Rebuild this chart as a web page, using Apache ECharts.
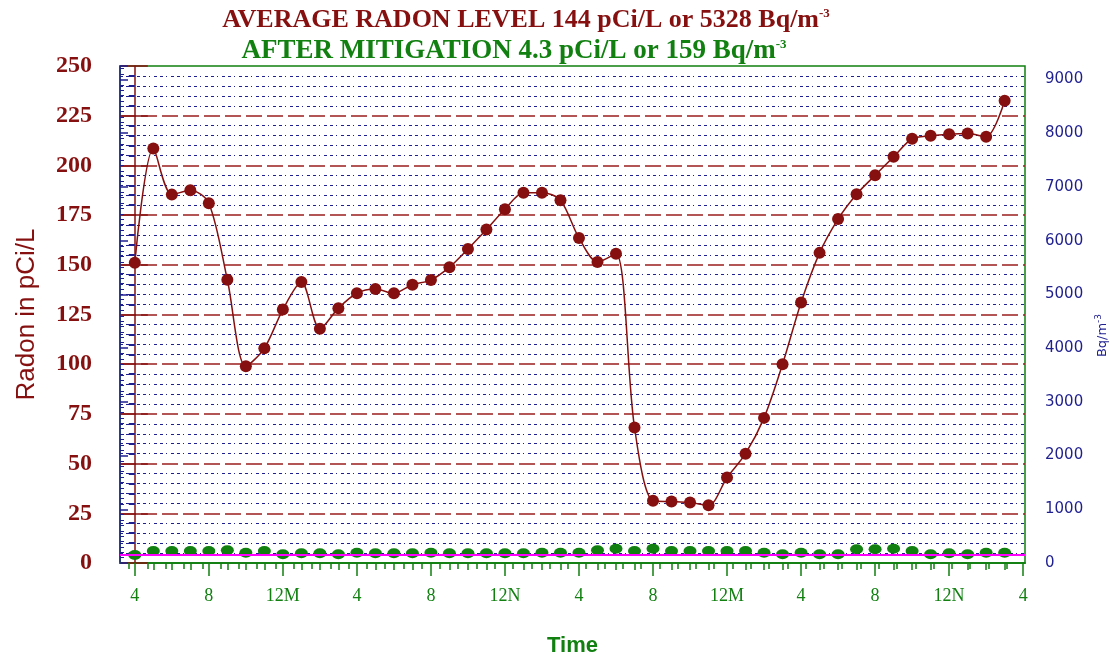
<!DOCTYPE html>
<html>
<head>
<meta charset="utf-8">
<script src="https://cdn.jsdelivr.net/npm/echarts@6/dist/echarts.min.js"></script>
<style>
html,body{margin:0;padding:0;background:#fff;}
#chart{width:1110px;height:659px;}
</style>
</head>
<body>
<div id="chart"></div>
<script>
// hours since the first reading (4 pm)
var hours = [0,1,2,3,4,5,6,7,8,9,10,11,12,13,14,15,16,17,18,19,20,21,22,23,
             24,25,26,27,28,29,30,31,32,33,34,35,36,37,38,39,40,41,42,43,44,45,46,47];
// before mitigation, pCi/L
var radonBefore = [151,208.5,185.3,187.5,181,142.5,99,108,127.5,141.3,117.8,128.2,135.7,137.8,135.7,140,
                   142.3,148.8,158,167.8,177.9,186.3,186.3,182.5,163.5,151.4,155.6,68.2,31.3,30.9,30.4,29,
                   43,55,73,100,131,156,173,185.5,195,204.3,213.4,214.9,215.7,216,214.4,232.5];
// after mitigation, pCi/L
var radonAfter = [4.0,6.0,6.0,6.0,6.0,6.4,5.2,6.0,4.4,4.9,4.9,4.4,5.2,4.9,4.9,4.9,
                  5.2,4.9,4.9,4.9,4.9,4.9,5.2,5.2,5.2,6.4,7.2,6.0,7.2,6.0,6.0,6.0,
                  6.0,6.0,5.2,4.4,5.2,4.4,4.4,6.9,6.9,7.2,6.0,4.4,4.9,4.4,5.2,5.2];
var afterAvg = 4.3;
var labelHours = [0,4,8,12,16,20,24,28,32,36,40,44,48];
var timeLabels = ['4','8','12M','4','8','12N','4','8','12M','4','8','12N','4'];

var darkRed = '#861010';
var green = '#118011';
var navy = '#1f1f8f';

var hourTicks = hours.concat([48]);
// ticks on the top border
var topTicks = [];
for (var k = 0; k < 49; k++) topTicks.push(k + 0.5);

function pairs(xs, ys){
  return ys.map(function(y, i){ return [xs[i], y]; });
}

var chart = echarts.init(document.getElementById('chart'));
var option = {
  animation: false,
  backgroundColor: '#fff',
  title: [
    {
      text: 'AVERAGE RADON LEVEL 144 pCi/L or 5328 Bq/m{sup|-3}',
      left: 521, top: 2, textAlign: 'center',
      textStyle: {fontFamily: 'Liberation Serif', fontSize: 26, fontWeight: 'bold', color: darkRed,
        rich: {sup: {fontFamily: 'Liberation Serif', fontSize: 13, fontWeight: 'bold', color: darkRed, verticalAlign: 'top', padding: [0,0,12,0]}}}
    },
    {
      text: 'AFTER MITIGATION 4.3 pCi/L or 159 Bq/m{sup|-3}',
      left: 509, top: 33, textAlign: 'center',
      textStyle: {fontFamily: 'Liberation Serif', fontSize: 27, fontWeight: 'bold', color: green,
        rich: {sup: {fontFamily: 'Liberation Serif', fontSize: 13, fontWeight: 'bold', color: green, verticalAlign: 'top', padding: [0,0,12,0]}}}
    }
  ],
  grid: {left: 120, right: 85, top: 66, bottom: 96, outerBoundsMode: 'none',
    show: true, borderColor: green, borderWidth: 1.5},
  xAxis: [
    {
      type: 'value', position: 'bottom', min: -0.8, max: 48.1,
      axisLine: {lineStyle: {color: green, width: 1.5}},
      axisTick: {customValues: labelHours, length: 13, lineStyle: {color: green, width: 1.5}},
      axisLabel: {customValues: labelHours, margin: 24, color: green,
        fontFamily: 'Liberation Serif', fontSize: 18,
        formatter: function(v){ return timeLabels[labelHours.indexOf(v)]; }},
      splitLine: {show: false},
      name: 'Time', nameLocation: 'middle', nameGap: 72,
      nameTextStyle: {color: green, fontFamily: 'Liberation Sans', fontWeight: 'bold', fontSize: 22}
    },
    {
      type: 'value', position: 'bottom', min: -0.8, max: 48.1,
      axisLine: {show: false},
      axisTick: {customValues: hourTicks, length: 7, lineStyle: {color: green, width: 1.5}},
      axisLabel: {show: false},
      splitLine: {show: false}
    },
    {
      type: 'value', position: 'top', min: 0, max: 49.5,
      axisLine: {lineStyle: {color: green, width: 1.5}},
      axisTick: {inside: true, customValues: topTicks, length: 6, lineStyle: {color: green, width: 1.5}},
      axisLabel: {show: false},
      splitLine: {show: false}
    }
  ],
  yAxis: [
    {
      type: 'value', position: 'left', min: 0, max: 250, interval: 25,
      axisLine: {show: true, lineStyle: {color: darkRed, width: 1.5}},
      axisTick: {length: 14, lineStyle: {color: darkRed, width: 1.5}},
      minorTick: {show: true, splitNumber: 5, length: 6, lineStyle: {color: navy, width: 2}},
      axisLabel: {color: darkRed, fontFamily: 'Liberation Serif', fontWeight: 'bold', fontSize: 24, margin: 28},
      splitLine: {showMinLine: false, showMaxLine: false, lineStyle: {color: '#9c1e1e', type: [16,5], width: 1.5}},
      minorSplitLine: {show: true, lineStyle: {color: navy, type: [3,3,3,3,1,4], width: 1.2}},
      name: 'Radon in pCi/L', nameLocation: 'middle', nameGap: 80,
      nameTextStyle: {color: darkRed, fontFamily: 'Liberation Sans', fontSize: 26}
    },
    {
      type: 'value', position: 'left', min: 0, max: 250, interval: 25,
      axisLine: {show: false},
      axisTick: {inside: true, length: 13, lineStyle: {color: darkRed, width: 1.5}},
      axisLabel: {show: false},
      splitLine: {show: false}
    },
    {
      type: 'value', position: 'right', offset: 2, min: 0, max: 9250, interval: 1000,
      axisLine: {show: true, lineStyle: {color: navy, width: 1.5}},
      axisTick: {length: 8, lineStyle: {color: navy, width: 1.5}},
      minorTick: {show: true, splitNumber: 10, length: 4, lineStyle: {color: navy, width: 1}},
      axisLabel: {color: navy, fontFamily: 'DejaVu Sans', fontSize: 15, margin: 18, showMaxLabel: false,
        formatter: function(v){ return String(v); }},
      splitLine: {show: false},
      name: 'Bq/m{sup|-3}', nameLocation: 'middle', nameRotate: 90, nameGap: 54,
      nameTextStyle: {color: navy, fontFamily: 'DejaVu Sans', fontSize: 13, padding: [0, 42, 0, 0],
        rich: {sup: {fontFamily: 'DejaVu Sans', fontSize: 9, color: navy, verticalAlign: 'top', padding: [0,0,8,0]}}}
    }
  ],
  series: [
    {
      name: 'Before', type: 'line', xAxisIndex: 0, yAxisIndex: 0,
      data: pairs(hours, radonBefore),
      smooth: 0.3,
      symbol: 'circle', symbolSize: 12,
      itemStyle: {color: darkRed, opacity: 1},
      lineStyle: {color: darkRed, width: 1.5},
      z: 5
    },
    {
      name: 'After', type: 'scatter', xAxisIndex: 0, yAxisIndex: 0,
      data: pairs(hours, radonAfter),
      symbol: 'circle', symbolSize: [13, 10],
      itemStyle: {color: green, opacity: 1},
      z: 4,
      markLine: {
        silent: true, symbol: ['none', 'none'],
        label: {show: false},
        lineStyle: {color: '#ff00ff', width: 2, type: 'solid'},
        data: [{yAxis: afterAvg}]
      }
    }
  ]
};
chart.setOption(option);
</script>
</body>
</html>
